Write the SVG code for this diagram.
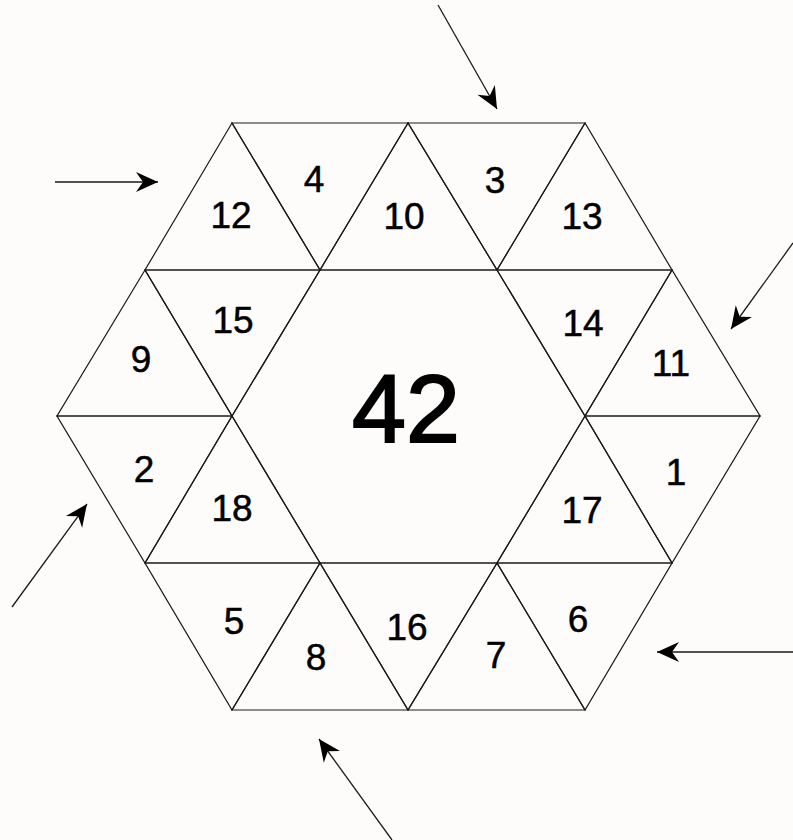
<svg xmlns="http://www.w3.org/2000/svg" width="793" height="840" viewBox="0 0 793 840">
<style>
.t{fill:none;stroke:#1a1a1a;stroke-width:1.2}
.n{font-family:"Liberation Sans",Arial,sans-serif;font-size:37px;fill:#000;stroke:#000;stroke-width:0.5;text-anchor:middle}
.big{font-size:97px;stroke-width:2}
.a{stroke:#1a1a1a;stroke-width:1.3;fill:none;marker-end:url(#ah)}
</style>
<defs>
<marker id="ah" markerUnits="userSpaceOnUse" markerWidth="26" markerHeight="24" viewBox="-23 -12 26 24" refX="0" refY="0" orient="auto">
<path d="M0,0 L-22,-10 L-15,0 L-22,10 Z" fill="#000"/>
</marker>
</defs>
<rect width="793" height="840" fill="#fdfcfb"/>
<g id="t12"><polygon class="t" points="232,123 145,270 320,270"/><text class="n" x="231" y="228">12</text></g>
<g id="t4"><polygon class="t" points="232,123 408,123 320,270"/><text class="n" x="314" y="192">4</text></g>
<g id="t10"><polygon class="t" points="408,123 320,270 497,270"/><text class="n" x="404" y="229">10</text></g>
<g id="t3"><polygon class="t" points="408,123 585,123 497,270"/><text class="n" x="495" y="193">3</text></g>
<g id="t13"><polygon class="t" points="585,123 497,270 672,270"/><text class="n" x="582" y="229">13</text></g>
<g id="t9"><polygon class="t" points="145,270 57,416 232,416"/><text class="n" x="141" y="372">9</text></g>
<g id="t15"><polygon class="t" points="145,270 320,270 232,416"/><text class="n" x="233" y="333">15</text></g>
<g id="t14"><polygon class="t" points="497,270 672,270 585,416"/><text class="n" x="583" y="336">14</text></g>
<g id="t11"><polygon class="t" points="672,270 585,416 760,416"/><text class="n" x="671" y="376">11</text></g>
<g id="t2"><polygon class="t" points="57,416 232,416 145,563"/><text class="n" x="144" y="482">2</text></g>
<g id="t18"><polygon class="t" points="232,416 145,563 320,563"/><text class="n" x="232" y="521">18</text></g>
<g id="t17"><polygon class="t" points="585,416 497,563 672,563"/><text class="n" x="582" y="523">17</text></g>
<g id="t1"><polygon class="t" points="585,416 760,416 672,563"/><text class="n" x="676" y="485">1</text></g>
<g id="t5"><polygon class="t" points="145,563 320,563 232,710"/><text class="n" x="234" y="634">5</text></g>
<g id="t8"><polygon class="t" points="320,563 232,710 408,710"/><text class="n" x="316" y="670">8</text></g>
<g id="t16"><polygon class="t" points="320,563 497,563 408,710"/><text class="n" x="407" y="640">16</text></g>
<g id="t7"><polygon class="t" points="497,563 408,710 585,710"/><text class="n" x="496" y="668">7</text></g>
<g id="t6"><polygon class="t" points="497,563 672,563 585,710"/><text class="n" x="578" y="632">6</text></g>
<g id="center"><polygon class="t" points="320,270 497,270 585,416 497,563 320,563 232,416"/><text class="n big" x="406" y="442">42</text></g>
<g id="connectors">
<line class="a" x1="438" y1="5" x2="497" y2="109"/>
<line class="a" x1="55" y1="182" x2="158" y2="182"/>
<line class="a" x1="793" y1="243" x2="731" y2="329"/>
<line class="a" x1="793" y1="652" x2="657" y2="652"/>
<line class="a" x1="392" y1="840" x2="319" y2="739"/>
<line class="a" x1="12" y1="607" x2="87" y2="504"/>
</g>
</svg>
